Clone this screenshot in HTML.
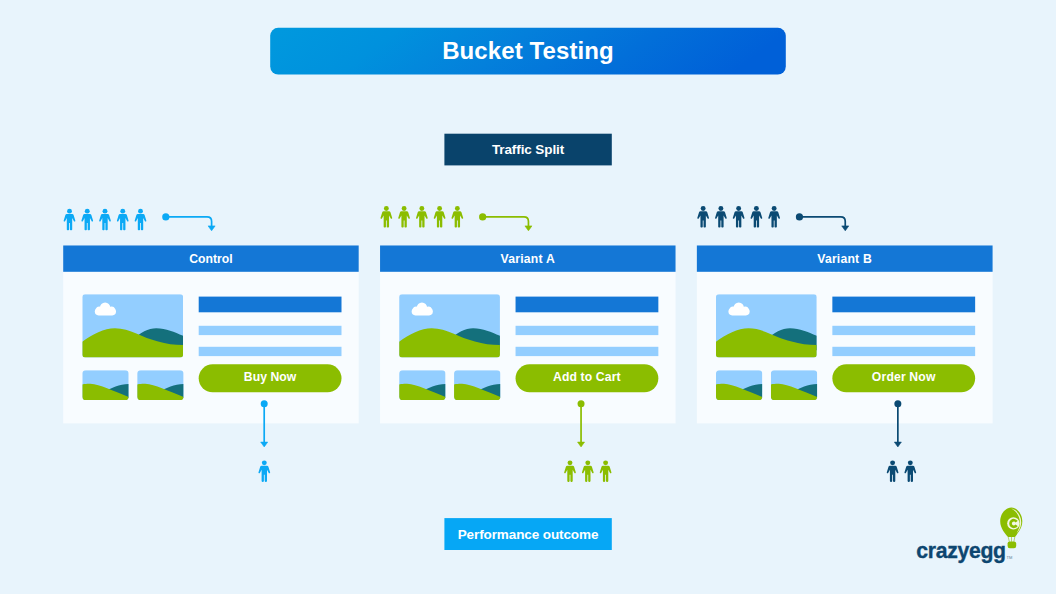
<!DOCTYPE html>
<html lang="en">
<head>
<meta charset="utf-8">
<title>Bucket Testing</title>
<style>
html,body{margin:0;padding:0;}
body{width:1056px;height:594px;overflow:hidden;background:#e8f4fc;font-family:"Liberation Sans",sans-serif;}
#stage{position:relative;width:1056px;height:594px;overflow:hidden;background:#e8f4fc;}
#stage svg{position:absolute;left:0;top:0;}
.t{position:absolute;color:#fff;font-weight:bold;text-align:center;white-space:nowrap;}
.title{left:270px;top:28px;width:516px;height:46px;line-height:46px;letter-spacing:0.1px;font-size:24px;}
.lab{left:444px;width:168px;height:32px;line-height:32px;font-size:13.5px;letter-spacing:-0.1px;}
.hd{top:245.3px;height:26.6px;line-height:28.4px;font-size:12.2px;}
.bt{top:364.3px;height:28px;line-height:27.4px;font-size:12.2px;}
.logo{position:absolute;left:916.3px;top:537.2px;font-size:21.2px;font-weight:bold;color:#0d4670;letter-spacing:-0.3px;line-height:28px;white-space:nowrap;-webkit-text-stroke:0.35px #0d4670;}
.tm{position:absolute;left:1006.5px;top:555px;font-size:4px;color:#5a7d96;line-height:5px;}
</style>
</head>
<body>
<div id="stage">
<svg width="1056" height="594" viewBox="0 0 1056 594">
<defs><linearGradient id="tg" x1="0" y1="0" x2="1" y2="0.12"><stop offset="0" stop-color="#0099de"/><stop offset="0.25" stop-color="#0091dd"/><stop offset="0.5" stop-color="#0480db"/><stop offset="0.75" stop-color="#026fd9"/><stop offset="1" stop-color="#0060d8"/></linearGradient></defs>
<rect x="270.2" y="27.8" width="515.6" height="46.7" rx="8" fill="url(#tg)"/>
<rect x="444.4" y="133.7" width="167.4" height="31.7" fill="#09436b"/>
<rect x="444.4" y="518.1" width="167.4" height="31.9" fill="#06a7f5"/>
<rect x="63.2" y="245.2" width="295.5" height="178.2" fill="#f8fcff"/>
<rect x="63.2" y="245.45" width="295.5" height="26.35" fill="#1477d6"/>
<g transform="translate(82.30,294.20)"><clipPath id="c0"><rect width="100.8" height="63.4" rx="3" ry="3"/></clipPath><g clip-path="url(#c0)"><rect width="100.8" height="63.4" fill="#93ceff"/><path d="M50,46 C58,38 66,34 74,34 C84,34 92,38 100.8,41.5 V56 H50Z" fill="#14707c"/><path d="M0,47.6 C10,40 22,34.1 32.6,34.1 C48,34.1 60,44 75.8,47.2 C84,49.5 92,50.8 100.8,50.8 V63.4 H0Z" fill="#8bbd00"/><g fill="#fff"><rect x="12.5" y="13.6" width="21.2" height="7.6" rx="3.8"/><circle cx="22.8" cy="13.4" r="5.2"/><circle cx="17" cy="15.5" r="3.2"/><circle cx="29.3" cy="15.6" r="3.2"/></g></g></g>
<g transform="translate(82.30,370.20)"><clipPath id="t0a"><rect width="46.4" height="29.8" rx="3.6" ry="3.6"/></clipPath><g clip-path="url(#t0a)"><rect width="46.4" height="29.8" fill="#93ceff"/><path d="M22,22 C29,17.5 37,14.2 46.4,13.8 V28 H22Z" fill="#14707c"/><path d="M0,14.2 C3,13.6 6,13.5 8,13.6 C18,14.2 30,20.6 46.4,26.7 V29.8 H0Z" fill="#8bbd00"/></g></g>
<g transform="translate(137.20,370.20)"><clipPath id="t0b"><rect width="46.4" height="29.8" rx="3.6" ry="3.6"/></clipPath><g clip-path="url(#t0b)"><rect width="46.4" height="29.8" fill="#93ceff"/><path d="M22,22 C29,17.5 37,14.2 46.4,13.8 V28 H22Z" fill="#14707c"/><path d="M0,14.2 C3,13.6 6,13.5 8,13.6 C18,14.2 30,20.6 46.4,26.7 V29.8 H0Z" fill="#8bbd00"/></g></g>
<rect x="198.7" y="296.6" width="142.8" height="15.7" fill="#1477d6"/>
<rect x="198.7" y="325.8" width="142.8" height="9.3" fill="#93ceff"/>
<rect x="198.7" y="346.8" width="142.8" height="9.3" fill="#93ceff"/>
<rect x="198.7" y="364.3" width="142.8" height="28" rx="14" fill="#8bbd00"/>
<g transform="translate(63.50,208.70)" fill="#0ba9f5"><circle cx="6" cy="2.45" r="2.45"/><path d="M3.3,5.3H8.7Q9.8,5.3 10.1,6.3L11.8,11.8Q12,12.6 11.3,12.8Q10.6,13 10.3,12.3L8.7,9.4V20.7Q8.7,21.5 7.9,21.5H7.2Q6.4,21.5 6.4,20.7V14.4H5.6V20.7Q5.6,21.5 4.8,21.5H4.1Q3.3,21.5 3.3,20.7V9.4L1.7,12.3Q1.4,13 0.7,12.8Q0,12.6 0.2,11.8L1.9,6.3Q2.2,5.3 3.3,5.3Z"/></g>
<g transform="translate(81.25,208.70)" fill="#0ba9f5"><circle cx="6" cy="2.45" r="2.45"/><path d="M3.3,5.3H8.7Q9.8,5.3 10.1,6.3L11.8,11.8Q12,12.6 11.3,12.8Q10.6,13 10.3,12.3L8.7,9.4V20.7Q8.7,21.5 7.9,21.5H7.2Q6.4,21.5 6.4,20.7V14.4H5.6V20.7Q5.6,21.5 4.8,21.5H4.1Q3.3,21.5 3.3,20.7V9.4L1.7,12.3Q1.4,13 0.7,12.8Q0,12.6 0.2,11.8L1.9,6.3Q2.2,5.3 3.3,5.3Z"/></g>
<g transform="translate(99.00,208.70)" fill="#0ba9f5"><circle cx="6" cy="2.45" r="2.45"/><path d="M3.3,5.3H8.7Q9.8,5.3 10.1,6.3L11.8,11.8Q12,12.6 11.3,12.8Q10.6,13 10.3,12.3L8.7,9.4V20.7Q8.7,21.5 7.9,21.5H7.2Q6.4,21.5 6.4,20.7V14.4H5.6V20.7Q5.6,21.5 4.8,21.5H4.1Q3.3,21.5 3.3,20.7V9.4L1.7,12.3Q1.4,13 0.7,12.8Q0,12.6 0.2,11.8L1.9,6.3Q2.2,5.3 3.3,5.3Z"/></g>
<g transform="translate(116.75,208.70)" fill="#0ba9f5"><circle cx="6" cy="2.45" r="2.45"/><path d="M3.3,5.3H8.7Q9.8,5.3 10.1,6.3L11.8,11.8Q12,12.6 11.3,12.8Q10.6,13 10.3,12.3L8.7,9.4V20.7Q8.7,21.5 7.9,21.5H7.2Q6.4,21.5 6.4,20.7V14.4H5.6V20.7Q5.6,21.5 4.8,21.5H4.1Q3.3,21.5 3.3,20.7V9.4L1.7,12.3Q1.4,13 0.7,12.8Q0,12.6 0.2,11.8L1.9,6.3Q2.2,5.3 3.3,5.3Z"/></g>
<g transform="translate(134.50,208.70)" fill="#0ba9f5"><circle cx="6" cy="2.45" r="2.45"/><path d="M3.3,5.3H8.7Q9.8,5.3 10.1,6.3L11.8,11.8Q12,12.6 11.3,12.8Q10.6,13 10.3,12.3L8.7,9.4V20.7Q8.7,21.5 7.9,21.5H7.2Q6.4,21.5 6.4,20.7V14.4H5.6V20.7Q5.6,21.5 4.8,21.5H4.1Q3.3,21.5 3.3,20.7V9.4L1.7,12.3Q1.4,13 0.7,12.8Q0,12.6 0.2,11.8L1.9,6.3Q2.2,5.3 3.3,5.3Z"/></g>
<g fill="#0ba9f5" stroke="none"><circle cx="165.80" cy="216.9" r="3.6"/><path d="M165.80,216.85H207.10Q211.60,216.85 211.60,221.4V226.5" fill="none" stroke="#0ba9f5" stroke-width="1.7"/><path d="M208.10,225.9H215.10L211.60,230.8Z" stroke="#0ba9f5" stroke-width="0.6" stroke-linejoin="round"/></g>
<g fill="#0ba9f5"><circle cx="264.20" cy="403.7" r="3.5"/><rect x="263.35" y="403.7" width="1.7" height="39"/><path d="M260.70,442.1H267.70L264.20,446.9Z" stroke="#0ba9f5" stroke-width="0.6" stroke-linejoin="round"/></g>
<rect x="380.05" y="245.2" width="295.5" height="178.2" fill="#f8fcff"/>
<rect x="380.05" y="245.45" width="295.5" height="26.35" fill="#1477d6"/>
<g transform="translate(399.15,294.20)"><clipPath id="c1"><rect width="100.8" height="63.4" rx="3" ry="3"/></clipPath><g clip-path="url(#c1)"><rect width="100.8" height="63.4" fill="#93ceff"/><path d="M50,46 C58,38 66,34 74,34 C84,34 92,38 100.8,41.5 V56 H50Z" fill="#14707c"/><path d="M0,47.6 C10,40 22,34.1 32.6,34.1 C48,34.1 60,44 75.8,47.2 C84,49.5 92,50.8 100.8,50.8 V63.4 H0Z" fill="#8bbd00"/><g fill="#fff"><rect x="12.5" y="13.6" width="21.2" height="7.6" rx="3.8"/><circle cx="22.8" cy="13.4" r="5.2"/><circle cx="17" cy="15.5" r="3.2"/><circle cx="29.3" cy="15.6" r="3.2"/></g></g></g>
<g transform="translate(399.15,370.20)"><clipPath id="t1a"><rect width="46.4" height="29.8" rx="3.6" ry="3.6"/></clipPath><g clip-path="url(#t1a)"><rect width="46.4" height="29.8" fill="#93ceff"/><path d="M22,22 C29,17.5 37,14.2 46.4,13.8 V28 H22Z" fill="#14707c"/><path d="M0,14.2 C3,13.6 6,13.5 8,13.6 C18,14.2 30,20.6 46.4,26.7 V29.8 H0Z" fill="#8bbd00"/></g></g>
<g transform="translate(454.05,370.20)"><clipPath id="t1b"><rect width="46.4" height="29.8" rx="3.6" ry="3.6"/></clipPath><g clip-path="url(#t1b)"><rect width="46.4" height="29.8" fill="#93ceff"/><path d="M22,22 C29,17.5 37,14.2 46.4,13.8 V28 H22Z" fill="#14707c"/><path d="M0,14.2 C3,13.6 6,13.5 8,13.6 C18,14.2 30,20.6 46.4,26.7 V29.8 H0Z" fill="#8bbd00"/></g></g>
<rect x="515.55" y="296.6" width="142.8" height="15.7" fill="#1477d6"/>
<rect x="515.55" y="325.8" width="142.8" height="9.3" fill="#93ceff"/>
<rect x="515.55" y="346.8" width="142.8" height="9.3" fill="#93ceff"/>
<rect x="515.55" y="364.3" width="142.8" height="28" rx="14" fill="#8bbd00"/>
<g transform="translate(380.35,206.00)" fill="#8bbd00"><circle cx="6" cy="2.45" r="2.45"/><path d="M3.3,5.3H8.7Q9.8,5.3 10.1,6.3L11.8,11.8Q12,12.6 11.3,12.8Q10.6,13 10.3,12.3L8.7,9.4V20.7Q8.7,21.5 7.9,21.5H7.2Q6.4,21.5 6.4,20.7V14.4H5.6V20.7Q5.6,21.5 4.8,21.5H4.1Q3.3,21.5 3.3,20.7V9.4L1.7,12.3Q1.4,13 0.7,12.8Q0,12.6 0.2,11.8L1.9,6.3Q2.2,5.3 3.3,5.3Z"/></g>
<g transform="translate(398.10,206.00)" fill="#8bbd00"><circle cx="6" cy="2.45" r="2.45"/><path d="M3.3,5.3H8.7Q9.8,5.3 10.1,6.3L11.8,11.8Q12,12.6 11.3,12.8Q10.6,13 10.3,12.3L8.7,9.4V20.7Q8.7,21.5 7.9,21.5H7.2Q6.4,21.5 6.4,20.7V14.4H5.6V20.7Q5.6,21.5 4.8,21.5H4.1Q3.3,21.5 3.3,20.7V9.4L1.7,12.3Q1.4,13 0.7,12.8Q0,12.6 0.2,11.8L1.9,6.3Q2.2,5.3 3.3,5.3Z"/></g>
<g transform="translate(415.85,206.00)" fill="#8bbd00"><circle cx="6" cy="2.45" r="2.45"/><path d="M3.3,5.3H8.7Q9.8,5.3 10.1,6.3L11.8,11.8Q12,12.6 11.3,12.8Q10.6,13 10.3,12.3L8.7,9.4V20.7Q8.7,21.5 7.9,21.5H7.2Q6.4,21.5 6.4,20.7V14.4H5.6V20.7Q5.6,21.5 4.8,21.5H4.1Q3.3,21.5 3.3,20.7V9.4L1.7,12.3Q1.4,13 0.7,12.8Q0,12.6 0.2,11.8L1.9,6.3Q2.2,5.3 3.3,5.3Z"/></g>
<g transform="translate(433.60,206.00)" fill="#8bbd00"><circle cx="6" cy="2.45" r="2.45"/><path d="M3.3,5.3H8.7Q9.8,5.3 10.1,6.3L11.8,11.8Q12,12.6 11.3,12.8Q10.6,13 10.3,12.3L8.7,9.4V20.7Q8.7,21.5 7.9,21.5H7.2Q6.4,21.5 6.4,20.7V14.4H5.6V20.7Q5.6,21.5 4.8,21.5H4.1Q3.3,21.5 3.3,20.7V9.4L1.7,12.3Q1.4,13 0.7,12.8Q0,12.6 0.2,11.8L1.9,6.3Q2.2,5.3 3.3,5.3Z"/></g>
<g transform="translate(451.35,206.00)" fill="#8bbd00"><circle cx="6" cy="2.45" r="2.45"/><path d="M3.3,5.3H8.7Q9.8,5.3 10.1,6.3L11.8,11.8Q12,12.6 11.3,12.8Q10.6,13 10.3,12.3L8.7,9.4V20.7Q8.7,21.5 7.9,21.5H7.2Q6.4,21.5 6.4,20.7V14.4H5.6V20.7Q5.6,21.5 4.8,21.5H4.1Q3.3,21.5 3.3,20.7V9.4L1.7,12.3Q1.4,13 0.7,12.8Q0,12.6 0.2,11.8L1.9,6.3Q2.2,5.3 3.3,5.3Z"/></g>
<g fill="#8bbd00" stroke="none"><circle cx="482.65" cy="216.9" r="3.6"/><path d="M482.65,216.85H523.95Q528.45,216.85 528.45,221.4V226.5" fill="none" stroke="#8bbd00" stroke-width="1.7"/><path d="M524.95,225.9H531.95L528.45,230.8Z" stroke="#8bbd00" stroke-width="0.6" stroke-linejoin="round"/></g>
<g fill="#8bbd00"><circle cx="581.05" cy="403.7" r="3.5"/><rect x="580.20" y="403.7" width="1.7" height="39"/><path d="M577.55,442.1H584.55L581.05,446.9Z" stroke="#8bbd00" stroke-width="0.6" stroke-linejoin="round"/></g>
<rect x="696.85" y="245.2" width="295.75" height="178.2" fill="#f8fcff"/>
<rect x="696.85" y="245.45" width="295.75" height="26.35" fill="#1477d6"/>
<g transform="translate(715.95,294.20)"><clipPath id="c2"><rect width="100.8" height="63.4" rx="3" ry="3"/></clipPath><g clip-path="url(#c2)"><rect width="100.8" height="63.4" fill="#93ceff"/><path d="M50,46 C58,38 66,34 74,34 C84,34 92,38 100.8,41.5 V56 H50Z" fill="#14707c"/><path d="M0,47.6 C10,40 22,34.1 32.6,34.1 C48,34.1 60,44 75.8,47.2 C84,49.5 92,50.8 100.8,50.8 V63.4 H0Z" fill="#8bbd00"/><g fill="#fff"><rect x="12.5" y="13.6" width="21.2" height="7.6" rx="3.8"/><circle cx="22.8" cy="13.4" r="5.2"/><circle cx="17" cy="15.5" r="3.2"/><circle cx="29.3" cy="15.6" r="3.2"/></g></g></g>
<g transform="translate(715.95,370.20)"><clipPath id="t2a"><rect width="46.4" height="29.8" rx="3.6" ry="3.6"/></clipPath><g clip-path="url(#t2a)"><rect width="46.4" height="29.8" fill="#93ceff"/><path d="M22,22 C29,17.5 37,14.2 46.4,13.8 V28 H22Z" fill="#14707c"/><path d="M0,14.2 C3,13.6 6,13.5 8,13.6 C18,14.2 30,20.6 46.4,26.7 V29.8 H0Z" fill="#8bbd00"/></g></g>
<g transform="translate(770.85,370.20)"><clipPath id="t2b"><rect width="46.4" height="29.8" rx="3.6" ry="3.6"/></clipPath><g clip-path="url(#t2b)"><rect width="46.4" height="29.8" fill="#93ceff"/><path d="M22,22 C29,17.5 37,14.2 46.4,13.8 V28 H22Z" fill="#14707c"/><path d="M0,14.2 C3,13.6 6,13.5 8,13.6 C18,14.2 30,20.6 46.4,26.7 V29.8 H0Z" fill="#8bbd00"/></g></g>
<rect x="832.35" y="296.6" width="142.8" height="15.7" fill="#1477d6"/>
<rect x="832.35" y="325.8" width="142.8" height="9.3" fill="#93ceff"/>
<rect x="832.35" y="346.8" width="142.8" height="9.3" fill="#93ceff"/>
<rect x="832.35" y="364.3" width="142.8" height="28" rx="14" fill="#8bbd00"/>
<g transform="translate(697.15,206.00)" fill="#0b4a73"><circle cx="6" cy="2.45" r="2.45"/><path d="M3.3,5.3H8.7Q9.8,5.3 10.1,6.3L11.8,11.8Q12,12.6 11.3,12.8Q10.6,13 10.3,12.3L8.7,9.4V20.7Q8.7,21.5 7.9,21.5H7.2Q6.4,21.5 6.4,20.7V14.4H5.6V20.7Q5.6,21.5 4.8,21.5H4.1Q3.3,21.5 3.3,20.7V9.4L1.7,12.3Q1.4,13 0.7,12.8Q0,12.6 0.2,11.8L1.9,6.3Q2.2,5.3 3.3,5.3Z"/></g>
<g transform="translate(714.90,206.00)" fill="#0b4a73"><circle cx="6" cy="2.45" r="2.45"/><path d="M3.3,5.3H8.7Q9.8,5.3 10.1,6.3L11.8,11.8Q12,12.6 11.3,12.8Q10.6,13 10.3,12.3L8.7,9.4V20.7Q8.7,21.5 7.9,21.5H7.2Q6.4,21.5 6.4,20.7V14.4H5.6V20.7Q5.6,21.5 4.8,21.5H4.1Q3.3,21.5 3.3,20.7V9.4L1.7,12.3Q1.4,13 0.7,12.8Q0,12.6 0.2,11.8L1.9,6.3Q2.2,5.3 3.3,5.3Z"/></g>
<g transform="translate(732.65,206.00)" fill="#0b4a73"><circle cx="6" cy="2.45" r="2.45"/><path d="M3.3,5.3H8.7Q9.8,5.3 10.1,6.3L11.8,11.8Q12,12.6 11.3,12.8Q10.6,13 10.3,12.3L8.7,9.4V20.7Q8.7,21.5 7.9,21.5H7.2Q6.4,21.5 6.4,20.7V14.4H5.6V20.7Q5.6,21.5 4.8,21.5H4.1Q3.3,21.5 3.3,20.7V9.4L1.7,12.3Q1.4,13 0.7,12.8Q0,12.6 0.2,11.8L1.9,6.3Q2.2,5.3 3.3,5.3Z"/></g>
<g transform="translate(750.40,206.00)" fill="#0b4a73"><circle cx="6" cy="2.45" r="2.45"/><path d="M3.3,5.3H8.7Q9.8,5.3 10.1,6.3L11.8,11.8Q12,12.6 11.3,12.8Q10.6,13 10.3,12.3L8.7,9.4V20.7Q8.7,21.5 7.9,21.5H7.2Q6.4,21.5 6.4,20.7V14.4H5.6V20.7Q5.6,21.5 4.8,21.5H4.1Q3.3,21.5 3.3,20.7V9.4L1.7,12.3Q1.4,13 0.7,12.8Q0,12.6 0.2,11.8L1.9,6.3Q2.2,5.3 3.3,5.3Z"/></g>
<g transform="translate(768.15,206.00)" fill="#0b4a73"><circle cx="6" cy="2.45" r="2.45"/><path d="M3.3,5.3H8.7Q9.8,5.3 10.1,6.3L11.8,11.8Q12,12.6 11.3,12.8Q10.6,13 10.3,12.3L8.7,9.4V20.7Q8.7,21.5 7.9,21.5H7.2Q6.4,21.5 6.4,20.7V14.4H5.6V20.7Q5.6,21.5 4.8,21.5H4.1Q3.3,21.5 3.3,20.7V9.4L1.7,12.3Q1.4,13 0.7,12.8Q0,12.6 0.2,11.8L1.9,6.3Q2.2,5.3 3.3,5.3Z"/></g>
<g fill="#0b4a73" stroke="none"><circle cx="799.45" cy="216.9" r="3.6"/><path d="M799.45,216.85H840.75Q845.25,216.85 845.25,221.4V226.5" fill="none" stroke="#0b4a73" stroke-width="1.7"/><path d="M841.75,225.9H848.75L845.25,230.8Z" stroke="#0b4a73" stroke-width="0.6" stroke-linejoin="round"/></g>
<g fill="#0b4a73"><circle cx="897.85" cy="403.7" r="3.5"/><rect x="897.00" y="403.7" width="1.7" height="39"/><path d="M894.35,442.1H901.35L897.85,446.9Z" stroke="#0b4a73" stroke-width="0.6" stroke-linejoin="round"/></g>
<g transform="translate(258.30,460.40)" fill="#0ba9f5"><circle cx="6" cy="2.45" r="2.45"/><path d="M3.3,5.3H8.7Q9.8,5.3 10.1,6.3L11.8,11.8Q12,12.6 11.3,12.8Q10.6,13 10.3,12.3L8.7,9.4V20.7Q8.7,21.5 7.9,21.5H7.2Q6.4,21.5 6.4,20.7V14.4H5.6V20.7Q5.6,21.5 4.8,21.5H4.1Q3.3,21.5 3.3,20.7V9.4L1.7,12.3Q1.4,13 0.7,12.8Q0,12.6 0.2,11.8L1.9,6.3Q2.2,5.3 3.3,5.3Z"/></g>
<g transform="translate(564.00,460.40)" fill="#8bbd00"><circle cx="6" cy="2.45" r="2.45"/><path d="M3.3,5.3H8.7Q9.8,5.3 10.1,6.3L11.8,11.8Q12,12.6 11.3,12.8Q10.6,13 10.3,12.3L8.7,9.4V20.7Q8.7,21.5 7.9,21.5H7.2Q6.4,21.5 6.4,20.7V14.4H5.6V20.7Q5.6,21.5 4.8,21.5H4.1Q3.3,21.5 3.3,20.7V9.4L1.7,12.3Q1.4,13 0.7,12.8Q0,12.6 0.2,11.8L1.9,6.3Q2.2,5.3 3.3,5.3Z"/></g>
<g transform="translate(581.80,460.40)" fill="#8bbd00"><circle cx="6" cy="2.45" r="2.45"/><path d="M3.3,5.3H8.7Q9.8,5.3 10.1,6.3L11.8,11.8Q12,12.6 11.3,12.8Q10.6,13 10.3,12.3L8.7,9.4V20.7Q8.7,21.5 7.9,21.5H7.2Q6.4,21.5 6.4,20.7V14.4H5.6V20.7Q5.6,21.5 4.8,21.5H4.1Q3.3,21.5 3.3,20.7V9.4L1.7,12.3Q1.4,13 0.7,12.8Q0,12.6 0.2,11.8L1.9,6.3Q2.2,5.3 3.3,5.3Z"/></g>
<g transform="translate(599.60,460.40)" fill="#8bbd00"><circle cx="6" cy="2.45" r="2.45"/><path d="M3.3,5.3H8.7Q9.8,5.3 10.1,6.3L11.8,11.8Q12,12.6 11.3,12.8Q10.6,13 10.3,12.3L8.7,9.4V20.7Q8.7,21.5 7.9,21.5H7.2Q6.4,21.5 6.4,20.7V14.4H5.6V20.7Q5.6,21.5 4.8,21.5H4.1Q3.3,21.5 3.3,20.7V9.4L1.7,12.3Q1.4,13 0.7,12.8Q0,12.6 0.2,11.8L1.9,6.3Q2.2,5.3 3.3,5.3Z"/></g>
<g transform="translate(886.60,460.40)" fill="#0b4a73"><circle cx="6" cy="2.45" r="2.45"/><path d="M3.3,5.3H8.7Q9.8,5.3 10.1,6.3L11.8,11.8Q12,12.6 11.3,12.8Q10.6,13 10.3,12.3L8.7,9.4V20.7Q8.7,21.5 7.9,21.5H7.2Q6.4,21.5 6.4,20.7V14.4H5.6V20.7Q5.6,21.5 4.8,21.5H4.1Q3.3,21.5 3.3,20.7V9.4L1.7,12.3Q1.4,13 0.7,12.8Q0,12.6 0.2,11.8L1.9,6.3Q2.2,5.3 3.3,5.3Z"/></g>
<g transform="translate(904.30,460.40)" fill="#0b4a73"><circle cx="6" cy="2.45" r="2.45"/><path d="M3.3,5.3H8.7Q9.8,5.3 10.1,6.3L11.8,11.8Q12,12.6 11.3,12.8Q10.6,13 10.3,12.3L8.7,9.4V20.7Q8.7,21.5 7.9,21.5H7.2Q6.4,21.5 6.4,20.7V14.4H5.6V20.7Q5.6,21.5 4.8,21.5H4.1Q3.3,21.5 3.3,20.7V9.4L1.7,12.3Q1.4,13 0.7,12.8Q0,12.6 0.2,11.8L1.9,6.3Q2.2,5.3 3.3,5.3Z"/></g>
<g>
<path d="M1011.4,507.6 C1017.6,507.6 1022.3,514.3 1022.3,521.3 C1022.3,528.6 1017.2,533.8 1015,537 H1008 C1005.4,533.8 1000.2,528.6 1000.2,521.3 C1000.2,514.3 1005,507.6 1011.4,507.6Z" fill="#8bbd00"/>
<path d="M1011.2,508.6 C1018,510.3 1021.6,516.5 1021.2,523.2 C1020.9,527.6 1018.6,531.2 1016.4,533.4 C1018.6,530 1019.9,526.8 1019.9,522.6 C1019.9,516.6 1016.6,511.2 1011.2,508.6Z" fill="#eef6d6"/>
<circle cx="1013.4" cy="523.4" r="6.2" fill="#f3f8e3"/>
<path d="M1016.6,521.7 A3.3,3.3 0 1 0 1016.6,525.3" fill="none" stroke="#8bbd00" stroke-width="2.7"/>
<path d="M1008.2,537 L1009.4,541.8 M1014.8,537 L1013.8,541.8 M1011.5,537V541.8" stroke="#8bbd00" stroke-width="0.7" stroke-opacity="0.8" fill="none"/>
<rect x="1007.6" y="541.4" width="8.6" height="6.9" rx="2.2" fill="#8bbd00"/>
</g>
</svg>
<div class="t title">Bucket Testing</div>
<div class="t lab" style="top:134px">Traffic Split</div>
<div class="t hd" style="left:63.2px;width:295.5px;letter-spacing:0px">Control</div>
<div class="t bt" style="left:198.7px;width:142.7px;letter-spacing:0.05px">Buy Now</div>
<div class="t hd" style="left:380.05px;width:295.5px;letter-spacing:0.22px">Variant A</div>
<div class="t bt" style="left:515.55px;width:142.7px;letter-spacing:0.12px">Add to Cart</div>
<div class="t hd" style="left:696.85px;width:295.5px;letter-spacing:0.2px">Variant B</div>
<div class="t bt" style="left:832.35px;width:142.7px;letter-spacing:0.15px">Order Now</div>
<div class="t lab" style="top:518px;line-height:33px">Performance outcome</div>
<div class="logo">crazyegg</div>
<div class="tm">TM</div>
</div>
</body>
</html>
